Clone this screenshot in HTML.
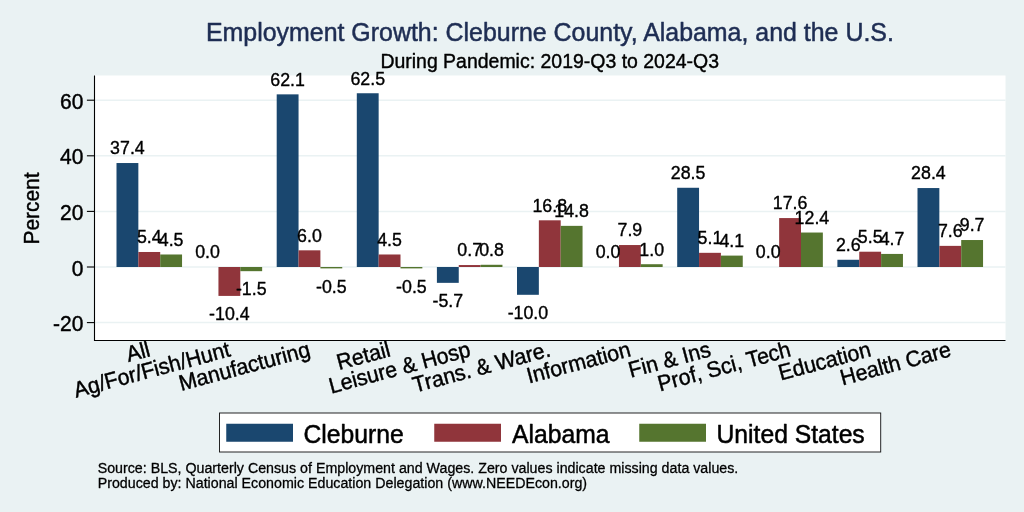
<!DOCTYPE html>
<html><head><meta charset="utf-8"><title>Employment Growth</title>
<style>html,body{margin:0;padding:0;background:#eaf2f3}svg{display:block}text{font-family:"Liberation Sans",Arial,Helvetica,sans-serif;fill:#000;stroke:#000;stroke-linejoin:round}text.t{fill:#1e2d53;stroke:#1e2d53}</style></head><body>
<svg width="1024" height="512" viewBox="0 0 1024 512">
<rect x="0" y="0" width="1024" height="512" fill="#eaf2f3"/>
<rect x="94.5" y="75.5" width="911.0" height="265.0" fill="#fff"/>
<line x1="94.5" x2="1005.5" y1="322.60" y2="322.60" stroke="#eaf2f3" stroke-width="1.5"/>
<line x1="94.5" x2="1005.5" y1="267.00" y2="267.00" stroke="#eaf2f3" stroke-width="1.5"/>
<line x1="94.5" x2="1005.5" y1="211.40" y2="211.40" stroke="#eaf2f3" stroke-width="1.5"/>
<line x1="94.5" x2="1005.5" y1="155.80" y2="155.80" stroke="#eaf2f3" stroke-width="1.5"/>
<line x1="94.5" x2="1005.5" y1="100.20" y2="100.20" stroke="#eaf2f3" stroke-width="1.5"/>
<rect x="116.50" y="163.03" width="21.85" height="103.97" fill="#1a476f"/>
<rect x="138.35" y="251.99" width="21.85" height="15.01" fill="#90353b"/>
<rect x="160.20" y="254.49" width="21.85" height="12.51" fill="#55752f"/>
<rect x="218.45" y="267.00" width="21.85" height="28.91" fill="#90353b"/>
<rect x="240.30" y="267.00" width="21.85" height="4.17" fill="#55752f"/>
<rect x="276.70" y="94.36" width="21.85" height="172.64" fill="#1a476f"/>
<rect x="298.55" y="250.32" width="21.85" height="16.68" fill="#90353b"/>
<rect x="320.40" y="267.00" width="21.85" height="1.39" fill="#55752f"/>
<rect x="356.80" y="93.25" width="21.85" height="173.75" fill="#1a476f"/>
<rect x="378.65" y="254.49" width="21.85" height="12.51" fill="#90353b"/>
<rect x="400.50" y="267.00" width="21.85" height="1.39" fill="#55752f"/>
<rect x="436.90" y="267.00" width="21.85" height="15.85" fill="#1a476f"/>
<rect x="458.75" y="265.05" width="21.85" height="1.95" fill="#90353b"/>
<rect x="480.60" y="264.78" width="21.85" height="2.22" fill="#55752f"/>
<rect x="517.00" y="267.00" width="21.85" height="27.80" fill="#1a476f"/>
<rect x="538.85" y="220.30" width="21.85" height="46.70" fill="#90353b"/>
<rect x="560.70" y="225.86" width="21.85" height="41.14" fill="#55752f"/>
<rect x="618.95" y="245.04" width="21.85" height="21.96" fill="#90353b"/>
<rect x="640.80" y="264.22" width="21.85" height="2.78" fill="#55752f"/>
<rect x="677.20" y="187.77" width="21.85" height="79.23" fill="#1a476f"/>
<rect x="699.05" y="252.82" width="21.85" height="14.18" fill="#90353b"/>
<rect x="720.90" y="255.60" width="21.85" height="11.40" fill="#55752f"/>
<rect x="779.15" y="218.07" width="21.85" height="48.93" fill="#90353b"/>
<rect x="801.00" y="232.53" width="21.85" height="34.47" fill="#55752f"/>
<rect x="837.40" y="259.77" width="21.85" height="7.23" fill="#1a476f"/>
<rect x="859.25" y="251.71" width="21.85" height="15.29" fill="#90353b"/>
<rect x="881.10" y="253.93" width="21.85" height="13.07" fill="#55752f"/>
<rect x="917.50" y="188.05" width="21.85" height="78.95" fill="#1a476f"/>
<rect x="939.35" y="245.87" width="21.85" height="21.13" fill="#90353b"/>
<rect x="961.20" y="240.03" width="21.85" height="26.97" fill="#55752f"/>
<line x1="94.5" x2="94.5" y1="75.5" y2="341.05" stroke="#000" stroke-width="1.1"/>
<line x1="94.5" x2="1005.5" y1="340.5" y2="340.5" stroke="#000" stroke-width="1.1"/>
<line x1="86.9" x2="94.5" y1="322.60" y2="322.60" stroke="#000" stroke-width="1.1"/>
<text transform="translate(83.40,331.12) scale(1,1.045)" font-size="21.0" stroke-width="0.42" text-anchor="end">-20</text>
<line x1="86.9" x2="94.5" y1="267.00" y2="267.00" stroke="#000" stroke-width="1.1"/>
<text transform="translate(83.40,275.52) scale(1,1.045)" font-size="21.0" stroke-width="0.42" text-anchor="end">0</text>
<line x1="86.9" x2="94.5" y1="211.40" y2="211.40" stroke="#000" stroke-width="1.1"/>
<text transform="translate(83.40,219.92) scale(1,1.045)" font-size="21.0" stroke-width="0.42" text-anchor="end">20</text>
<line x1="86.9" x2="94.5" y1="155.80" y2="155.80" stroke="#000" stroke-width="1.1"/>
<text transform="translate(83.40,164.32) scale(1,1.045)" font-size="21.0" stroke-width="0.42" text-anchor="end">40</text>
<line x1="86.9" x2="94.5" y1="100.20" y2="100.20" stroke="#000" stroke-width="1.1"/>
<text transform="translate(83.40,108.72) scale(1,1.045)" font-size="21.0" stroke-width="0.42" text-anchor="end">60</text>
<text transform="translate(38.50,208.50) rotate(-90) scale(1,1.045)" font-size="20.9" stroke-width="0.42" text-anchor="middle">Percent</text>
<text transform="translate(127.42,154.43) scale(1,1.045)" font-size="17.8" stroke-width="0.36" text-anchor="middle">37.4</text>
<text transform="translate(149.28,243.39) scale(1,1.045)" font-size="17.8" stroke-width="0.36" text-anchor="middle">5.4</text>
<text transform="translate(171.12,245.89) scale(1,1.045)" font-size="17.8" stroke-width="0.36" text-anchor="middle">4.5</text>
<text transform="translate(207.53,258.40) scale(1,1.045)" font-size="17.8" stroke-width="0.36" text-anchor="middle">0.0</text>
<text transform="translate(229.38,320.21) scale(1,1.045)" font-size="17.8" stroke-width="0.36" text-anchor="middle">-10.4</text>
<text transform="translate(251.23,295.47) scale(1,1.045)" font-size="17.8" stroke-width="0.36" text-anchor="middle">-1.5</text>
<text transform="translate(287.62,85.76) scale(1,1.045)" font-size="17.8" stroke-width="0.36" text-anchor="middle">62.1</text>
<text transform="translate(309.48,241.72) scale(1,1.045)" font-size="17.8" stroke-width="0.36" text-anchor="middle">6.0</text>
<text transform="translate(331.32,292.69) scale(1,1.045)" font-size="17.8" stroke-width="0.36" text-anchor="middle">-0.5</text>
<text transform="translate(367.72,84.65) scale(1,1.045)" font-size="17.8" stroke-width="0.36" text-anchor="middle">62.5</text>
<text transform="translate(389.57,245.89) scale(1,1.045)" font-size="17.8" stroke-width="0.36" text-anchor="middle">4.5</text>
<text transform="translate(411.42,292.69) scale(1,1.045)" font-size="17.8" stroke-width="0.36" text-anchor="middle">-0.5</text>
<text transform="translate(447.82,307.15) scale(1,1.045)" font-size="17.8" stroke-width="0.36" text-anchor="middle">-5.7</text>
<text transform="translate(469.68,256.45) scale(1,1.045)" font-size="17.8" stroke-width="0.36" text-anchor="middle">0.7</text>
<text transform="translate(491.52,256.18) scale(1,1.045)" font-size="17.8" stroke-width="0.36" text-anchor="middle">0.8</text>
<text transform="translate(527.92,319.10) scale(1,1.045)" font-size="17.8" stroke-width="0.36" text-anchor="middle">-10.0</text>
<text transform="translate(549.77,211.70) scale(1,1.045)" font-size="17.8" stroke-width="0.36" text-anchor="middle">16.8</text>
<text transform="translate(571.62,217.26) scale(1,1.045)" font-size="17.8" stroke-width="0.36" text-anchor="middle">14.8</text>
<text transform="translate(608.02,258.40) scale(1,1.045)" font-size="17.8" stroke-width="0.36" text-anchor="middle">0.0</text>
<text transform="translate(629.87,236.44) scale(1,1.045)" font-size="17.8" stroke-width="0.36" text-anchor="middle">7.9</text>
<text transform="translate(651.72,255.62) scale(1,1.045)" font-size="17.8" stroke-width="0.36" text-anchor="middle">1.0</text>
<text transform="translate(688.12,179.17) scale(1,1.045)" font-size="17.8" stroke-width="0.36" text-anchor="middle">28.5</text>
<text transform="translate(709.97,244.22) scale(1,1.045)" font-size="17.8" stroke-width="0.36" text-anchor="middle">5.1</text>
<text transform="translate(731.82,247.00) scale(1,1.045)" font-size="17.8" stroke-width="0.36" text-anchor="middle">4.1</text>
<text transform="translate(768.22,258.40) scale(1,1.045)" font-size="17.8" stroke-width="0.36" text-anchor="middle">0.0</text>
<text transform="translate(790.07,209.47) scale(1,1.045)" font-size="17.8" stroke-width="0.36" text-anchor="middle">17.6</text>
<text transform="translate(811.92,223.93) scale(1,1.045)" font-size="17.8" stroke-width="0.36" text-anchor="middle">12.4</text>
<text transform="translate(848.32,251.17) scale(1,1.045)" font-size="17.8" stroke-width="0.36" text-anchor="middle">2.6</text>
<text transform="translate(870.17,243.11) scale(1,1.045)" font-size="17.8" stroke-width="0.36" text-anchor="middle">5.5</text>
<text transform="translate(892.02,245.33) scale(1,1.045)" font-size="17.8" stroke-width="0.36" text-anchor="middle">4.7</text>
<text transform="translate(928.42,179.45) scale(1,1.045)" font-size="17.8" stroke-width="0.36" text-anchor="middle">28.4</text>
<text transform="translate(950.27,237.27) scale(1,1.045)" font-size="17.8" stroke-width="0.36" text-anchor="middle">7.6</text>
<text transform="translate(972.12,231.43) scale(1,1.045)" font-size="17.8" stroke-width="0.36" text-anchor="middle">9.7</text>
<text transform="translate(151.28,356.00) rotate(-15) scale(1,1.045)" font-size="21.3" stroke-width="0.43" text-anchor="end">All</text>
<text transform="translate(231.38,356.00) rotate(-15) scale(1,1.045)" font-size="21.3" stroke-width="0.43" text-anchor="end">Ag/For/Fish/Hunt</text>
<text transform="translate(311.48,356.00) rotate(-15) scale(1,1.045)" font-size="21.3" stroke-width="0.43" text-anchor="end">Manufacturing</text>
<text transform="translate(391.57,356.00) rotate(-15) scale(1,1.045)" font-size="21.3" stroke-width="0.43" text-anchor="end">Retail</text>
<text transform="translate(471.67,356.00) rotate(-15) scale(1,1.045)" font-size="21.3" stroke-width="0.43" text-anchor="end">Leisure &amp; Hosp</text>
<text transform="translate(551.77,356.00) rotate(-15) scale(1,1.045)" font-size="21.3" stroke-width="0.43" text-anchor="end">Trans. &amp; Ware.</text>
<text transform="translate(631.87,356.00) rotate(-15) scale(1,1.045)" font-size="21.3" stroke-width="0.43" text-anchor="end">Information</text>
<text transform="translate(711.97,356.00) rotate(-15) scale(1,1.045)" font-size="21.3" stroke-width="0.43" text-anchor="end">Fin &amp; Ins</text>
<text transform="translate(792.07,356.00) rotate(-15) scale(1,1.045)" font-size="21.3" stroke-width="0.43" text-anchor="end">Prof, Sci, Tech</text>
<text transform="translate(872.17,356.00) rotate(-15) scale(1,1.045)" font-size="21.3" stroke-width="0.43" text-anchor="end">Education</text>
<text transform="translate(952.27,356.00) rotate(-15) scale(1,1.045)" font-size="21.3" stroke-width="0.43" text-anchor="end">Health Care</text>
<text transform="translate(549.90,41.00) scale(1,1.045)" font-size="24.93" stroke-width="0.50" text-anchor="middle" class="t">Employment Growth: Cleburne County, Alabama, and the U.S.</text>
<text transform="translate(549.70,67.80) scale(1,1.045)" font-size="19.48" stroke-width="0.39" text-anchor="middle">During Pandemic: 2019-Q3 to 2024-Q3</text>
<rect x="219.5" y="413" width="661.2" height="39" fill="#fff" stroke="#1a1a1a" stroke-width="0.95"/>
<rect x="226.25" y="423.75" width="66.75" height="18" fill="#1a476f"/>
<text transform="translate(303.50,443.20) scale(1,1.045)" font-size="24.7" stroke-width="0.49">Cleburne</text>
<rect x="434.25" y="423.75" width="66.75" height="18" fill="#90353b"/>
<text transform="translate(512.00,443.20) scale(1,1.045)" font-size="24.7" stroke-width="0.49">Alabama</text>
<rect x="639.25" y="423.75" width="66.75" height="18" fill="#55752f"/>
<text transform="translate(716.50,443.20) scale(1,1.045)" font-size="24.7" stroke-width="0.49">United States</text>
<text transform="translate(97.70,472.50) scale(1,1.045)" font-size="14.24" stroke-width="0.28">Source: BLS, Quarterly Census of Employment and Wages. Zero values indicate missing data values.</text>
<text transform="translate(97.70,487.50) scale(1,1.045)" font-size="14.24" stroke-width="0.28">Produced by: National Economic Education Delegation (www.NEEDEcon.org)</text>
</svg></body></html>
